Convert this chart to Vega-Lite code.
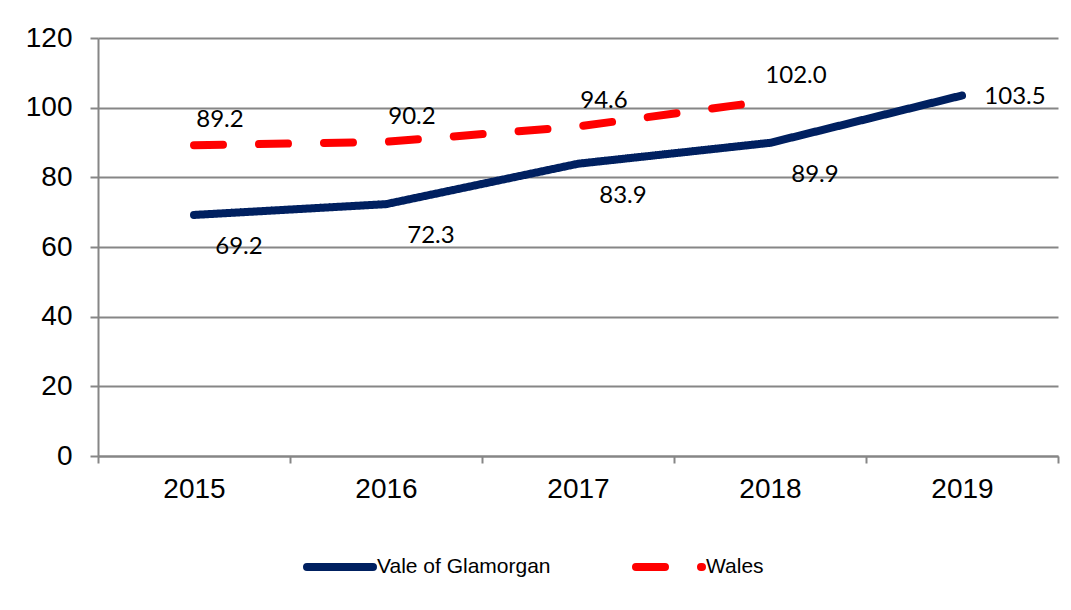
{
  "$schema": "https://vega.github.io/schema/vega-lite/v6.json",
  "width": 960,
  "height": 418,
  "autosize": {"type": "none"},
  "padding": {"left": 98, "top": 38, "right": 13, "bottom": 154},
  "background": "white",
  "config": {
    "view": {"stroke": null},
    "font": "Liberation Sans"
  },
  "data": {
    "values": [
      {"year": "2015", "series": "Vale of Glamorgan", "value": 69.2},
      {"year": "2016", "series": "Vale of Glamorgan", "value": 72.3},
      {"year": "2017", "series": "Vale of Glamorgan", "value": 83.9},
      {"year": "2018", "series": "Vale of Glamorgan", "value": 89.9},
      {"year": "2019", "series": "Vale of Glamorgan", "value": 103.5},
      {"year": "2015", "series": "Wales", "value": 89.2},
      {"year": "2016", "series": "Wales", "value": 90.2},
      {"year": "2017", "series": "Wales", "value": 94.6},
      {"year": "2018", "series": "Wales", "value": 102.0}
    ]
  },
  "encoding": {
    "x": {
      "field": "year",
      "type": "ordinal",
      "scale": {"type": "band", "paddingInner": 0, "paddingOuter": 0},
      "axis": {
        "title": null,
        "labelAngle": 0,
        "labelFont": "Liberation Sans",
        "labelFontSize": 28,
        "labelColor": "#000000",
        "labelPadding": 12,
        "tickBand": "extent",
        "tickSize": 7,
        "tickColor": "#868686",
        "tickWidth": 2,
        "domainColor": "#868686",
        "domainWidth": 2,
        "grid": false
      }
    },
    "y": {
      "field": "value",
      "type": "quantitative",
      "scale": {"domain": [0, 120]},
      "axis": {
        "title": null,
        "values": [0, 20, 40, 60, 80, 100, 120],
        "labelFont": "Liberation Sans",
        "labelFontSize": 28,
        "labelColor": "#000000",
        "labelPadding": 18,
        "tickSize": 8,
        "tickColor": "#868686",
        "tickWidth": 2,
        "domainColor": "#868686",
        "domainWidth": 2,
        "gridColor": "#868686",
        "gridWidth": 2
      }
    }
  },
  "layer": [
    {
      "mark": {"type": "line", "strokeWidth": 8, "strokeCap": "round", "strokeJoin": "round"},
      "encoding": {
        "color": {
          "field": "series",
          "type": "nominal",
          "scale": {"domain": ["Vale of Glamorgan", "Wales"], "range": ["#002060", "#FF0000"]},
          "legend": {
            "title": null,
            "orient": "none",
            "direction": "horizontal",
            "legendX": 205,
            "legendY": 492,
            "symbolType": "stroke",
            "symbolSize": 4356,
            "symbolStrokeWidth": 8,
            "labelFont": "Liberation Sans",
            "labelFontSize": 21,
            "labelColor": "#000000",
            "labelLimit": 0,
            "labelOffset": 0,
            "columnPadding": 69,
            "encode": {"symbols": {"update": {"strokeCap": {"value": "round"}}}}
          }
        },
        "strokeDash": {
          "field": "series",
          "type": "nominal",
          "scale": {"domain": ["Vale of Glamorgan", "Wales"], "range": [[1, 0], [29, 36]]},
          "legend": null
        }
      }
    },
    {
      "transform": [{"filter": "datum.series === 'Vale of Glamorgan' && datum.year !== '2019'"}],
      "mark": {"type": "text", "font": "Lato", "fontSize": 24, "color": "#000000", "dx": 45, "dy": 32},
      "encoding": {"text": {"field": "value", "type": "quantitative", "format": ".1f"}}
    },
    {
      "transform": [{"filter": "datum.series === 'Vale of Glamorgan' && datum.year === '2019'"}],
      "mark": {"type": "text", "font": "Lato", "fontSize": 24, "color": "#000000", "dx": 53, "dy": 2},
      "encoding": {"text": {"field": "value", "type": "quantitative", "format": ".1f"}}
    },
    {
      "transform": [{"filter": "datum.series === 'Wales'"}],
      "mark": {"type": "text", "font": "Lato", "fontSize": 24, "color": "#000000", "dx": 26, "dy": -25},
      "encoding": {"text": {"field": "value", "type": "quantitative", "format": ".1f"}}
    }
  ]
}
